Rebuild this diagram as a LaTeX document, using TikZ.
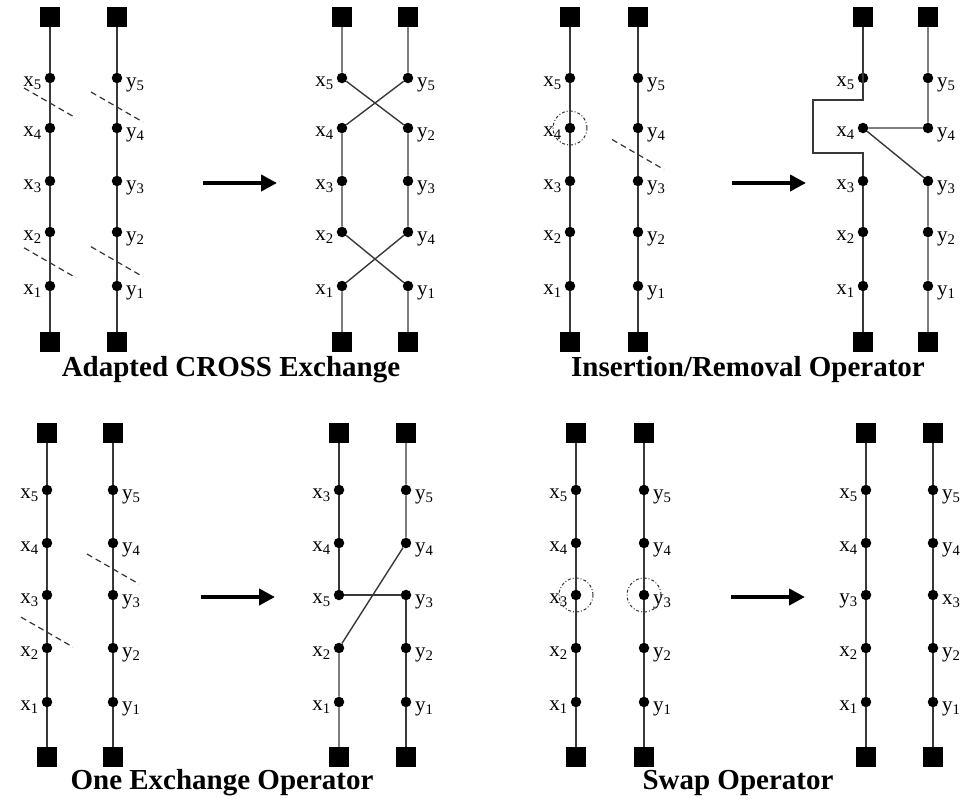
\documentclass[tikz,border=0pt]{standalone}
\usepackage{fontspec}
\setmainfont{Liberation Serif}
\usetikzlibrary{arrows.meta,calc}
\newcommand{\lab}[2]{#1\textsubscript{#2}}
% depots of one panel: name, left x, right x, top y, bottom y
\newcommand{\depots}[5]{%
  \node[depot] (#1ltop) at (#2,#4) {};
  \node[depot] (#1rtop) at (#3,#4) {};
  \node[depot] (#1lbot) at (#2,#5) {};
  \node[depot] (#1rbot) at (#3,#5) {};}
% customers of one panel: name, left x, right x, rows
\newcommand{\stops}[4]{%
  \foreach \r/\h/\lt/\rt in {#4} {
    \node[cust] (#1l\r) at (#2,\h) {};
    \node[cust] (#1r\r) at (#3,\h) {};
    \node[xlab] (#1xl\r) at ([shift={(-8,8)}]#1l\r) {\lt};
    \node[ylab] (#1yl\r) at ([shift={(9,9)}]#1r\r) {\rt};
  }}
% cut between two customers: from, to, fraction
\newcommand{\cutmark}[3]{\draw[cut] ($(#1)!#3!(#2)+(-26,-15)$) -- ($(#1)!#3!(#2)+(26,15)$);}

\begin{document}
\begin{tikzpicture}[x=1pt, y=-1pt]
  \tikzset{
    route/.style={draw=black!78, line width=1.4pt},
    depot/.style={fill=black, minimum size=20pt, inner sep=0pt},
    cust/.style={circle, fill=black, minimum size=10.5pt, inner sep=0pt},
    xlab/.style={font=\fontsize{21}{24}\selectfont, anchor=base east, inner sep=0pt},
    ylab/.style={font=\fontsize{21}{24}\selectfont, anchor=base west, inner sep=0pt},
    cut/.style={draw=black!80, line width=1.2pt, dash pattern=on 6pt off 4pt},
    pick/.style={circle, draw=black!80, line width=1pt, dash dot, minimum size=34pt, inner sep=0pt},
    move/.style={-{Triangle[length=16pt,width=16pt]}, line width=4pt},
    title/.style={font=\fontsize{29}{32}\selectfont\bfseries, anchor=base}
  }
  \useasboundingbox (0,0) rectangle (978,801);

  % Adapted CROSS exchange, before
  \depots{p1}{50}{117}{17}{342}
  \stops{p1}{50}{117}{5/78/\lab{x}{5}/\lab{y}{5}, 4/128/\lab{x}{4}/\lab{y}{4},
    3/181/\lab{x}{3}/\lab{y}{3}, 2/232/\lab{x}{2}/\lab{y}{2}, 1/286/\lab{x}{1}/\lab{y}{1}}
  \draw[route] (p1ltop) -- (p1l5) -- (p1l4) -- (p1l3) -- (p1l2) -- (p1l1) -- (p1lbot);
  \draw[route] (p1rtop) -- (p1r5) -- (p1r4) -- (p1r3) -- (p1r2) -- (p1r1) -- (p1rbot);
  \cutmark{p1l5}{p1l4}{0.5}
  \cutmark{p1r5}{p1r4}{0.58}
  \cutmark{p1l2}{p1l1}{0.57}
  \cutmark{p1r2}{p1r1}{0.55}

  % Adapted CROSS exchange, after
  \depots{p2}{342}{408}{17}{342}
  \stops{p2}{342}{408}{5/78/\lab{x}{5}/\lab{y}{5}, 4/128/\lab{x}{4}/\lab{y}{2},
    3/181/\lab{x}{3}/\lab{y}{3}, 2/232/\lab{x}{2}/\lab{y}{4}, 1/286/\lab{x}{1}/\lab{y}{1}}
  \draw[route] (p2ltop) -- (p2l5) -- (p2r4) -- (p2r3) -- (p2r2) -- (p2l1) -- (p2lbot);
  \draw[route] (p2rtop) -- (p2r5) -- (p2l4) -- (p2l3) -- (p2l2) -- (p2r1) -- (p2rbot);

  % Insertion/removal, before
  \depots{p3}{570}{638}{17}{342}
  \stops{p3}{570}{638}{5/78/\lab{x}{5}/\lab{y}{5}, 4/128/\lab{x}{4}/\lab{y}{4},
    3/181/\lab{x}{3}/\lab{y}{3}, 2/232/\lab{x}{2}/\lab{y}{2}, 1/286/\lab{x}{1}/\lab{y}{1}}
  \draw[route] (p3ltop) -- (p3l5) -- (p3l4) -- (p3l3) -- (p3l2) -- (p3l1) -- (p3lbot);
  \draw[route] (p3rtop) -- (p3r5) -- (p3r4) -- (p3r3) -- (p3r2) -- (p3r1) -- (p3rbot);
  \node[pick] (p3pick) at (p3l4) {};
  \cutmark{p3r4}{p3r3}{0.5}

  % Insertion/removal, after
  \depots{p4}{863}{928}{17}{342}
  \stops{p4}{863}{928}{5/78/\lab{x}{5}/\lab{y}{5}, 4/128/\lab{x}{4}/\lab{y}{4},
    3/181/\lab{x}{3}/\lab{y}{3}, 2/232/\lab{x}{2}/\lab{y}{2}, 1/286/\lab{x}{1}/\lab{y}{1}}
  \draw[route] (p4ltop) -- (p4l5.center) -- ++(0,22) -- ++(-50,0) -- ++(0,53) -- ++(50,0)
    -- (p4l3) -- (p4l2) -- (p4l1) -- (p4lbot);
  \draw[route] (p4rtop) -- (p4r5) -- (p4r4) -- (p4l4) -- (p4r3) -- (p4r2) -- (p4r1) -- (p4rbot);

  % One exchange, before
  \depots{p5}{47}{113}{433}{757}
  \stops{p5}{47}{113}{5/490/\lab{x}{5}/\lab{y}{5}, 4/543/\lab{x}{4}/\lab{y}{4},
    3/595/\lab{x}{3}/\lab{y}{3}, 2/648/\lab{x}{2}/\lab{y}{2}, 1/702/\lab{x}{1}/\lab{y}{1}}
  \draw[route] (p5ltop) -- (p5l5) -- (p5l4) -- (p5l3) -- (p5l2) -- (p5l1) -- (p5lbot);
  \draw[route] (p5rtop) -- (p5r5) -- (p5r4) -- (p5r3) -- (p5r2) -- (p5r1) -- (p5rbot);
  \cutmark{p5r4}{p5r3}{0.5}
  \cutmark{p5l3}{p5l2}{0.7}

  % One exchange, after
  \depots{p6}{339}{406}{433}{757}
  \stops{p6}{339}{406}{5/490/\lab{x}{3}/\lab{y}{5}, 4/543/\lab{x}{4}/\lab{y}{4},
    3/595/\lab{x}{5}/\lab{y}{3}, 2/648/\lab{x}{2}/\lab{y}{2}, 1/702/\lab{x}{1}/\lab{y}{1}}
  \draw[route] (p6ltop) -- (p6l5) -- (p6l4) -- (p6l3) -- (p6r3) -- (p6r2) -- (p6r1) -- (p6rbot);
  \draw[route] (p6rtop) -- (p6r5) -- (p6r4) -- (p6l2) -- (p6l1) -- (p6lbot);

  % Swap, before
  \depots{p7}{576}{644}{433}{757}
  \stops{p7}{576}{644}{5/490/\lab{x}{5}/\lab{y}{5}, 4/543/\lab{x}{4}/\lab{y}{4},
    3/595/\lab{x}{3}/\lab{y}{3}, 2/648/\lab{x}{2}/\lab{y}{2}, 1/702/\lab{x}{1}/\lab{y}{1}}
  \draw[route] (p7ltop) -- (p7l5) -- (p7l4) -- (p7l3) -- (p7l2) -- (p7l1) -- (p7lbot);
  \draw[route] (p7rtop) -- (p7r5) -- (p7r4) -- (p7r3) -- (p7r2) -- (p7r1) -- (p7rbot);
  \node[pick] (p7lpick) at (p7l3) {};
  \node[pick] (p7rpick) at (p7r3) {};

  % Swap, after
  \depots{p8}{866}{933}{433}{757}
  \stops{p8}{866}{933}{5/490/\lab{x}{5}/\lab{y}{5}, 4/543/\lab{x}{4}/\lab{y}{4},
    3/595/\lab{y}{3}/\lab{x}{3}, 2/648/\lab{x}{2}/\lab{y}{2}, 1/702/\lab{x}{1}/\lab{y}{1}}
  \draw[route] (p8ltop) -- (p8l5) -- (p8l4) -- (p8l3) -- (p8l2) -- (p8l1) -- (p8lbot);
  \draw[route] (p8rtop) -- (p8r5) -- (p8r4) -- (p8r3) -- (p8r2) -- (p8r1) -- (p8rbot);

  % arrows
  \coordinate (a1s) at (203,183);  \coordinate (a1e) at (277,183);
  \coordinate (a2s) at (732,183);  \coordinate (a2e) at (806,183);
  \coordinate (a3s) at (201,597);  \coordinate (a3e) at (275,597);
  \coordinate (a4s) at (731,597);  \coordinate (a4e) at (805,597);
  \foreach \a in {1,2,3,4}
    \draw[move] (a\a s) -- (a\a e);

  % titles
  \node[title] (t1) at (231,376) {Adapted CROSS Exchange};
  \node[title] (t2) at (748,376) {Insertion/Removal Operator};
  \node[title] (t3) at (222,789) {One Exchange Operator};
  \node[title] (t4) at (738,789) {Swap Operator};
\end{tikzpicture}
\end{document}
